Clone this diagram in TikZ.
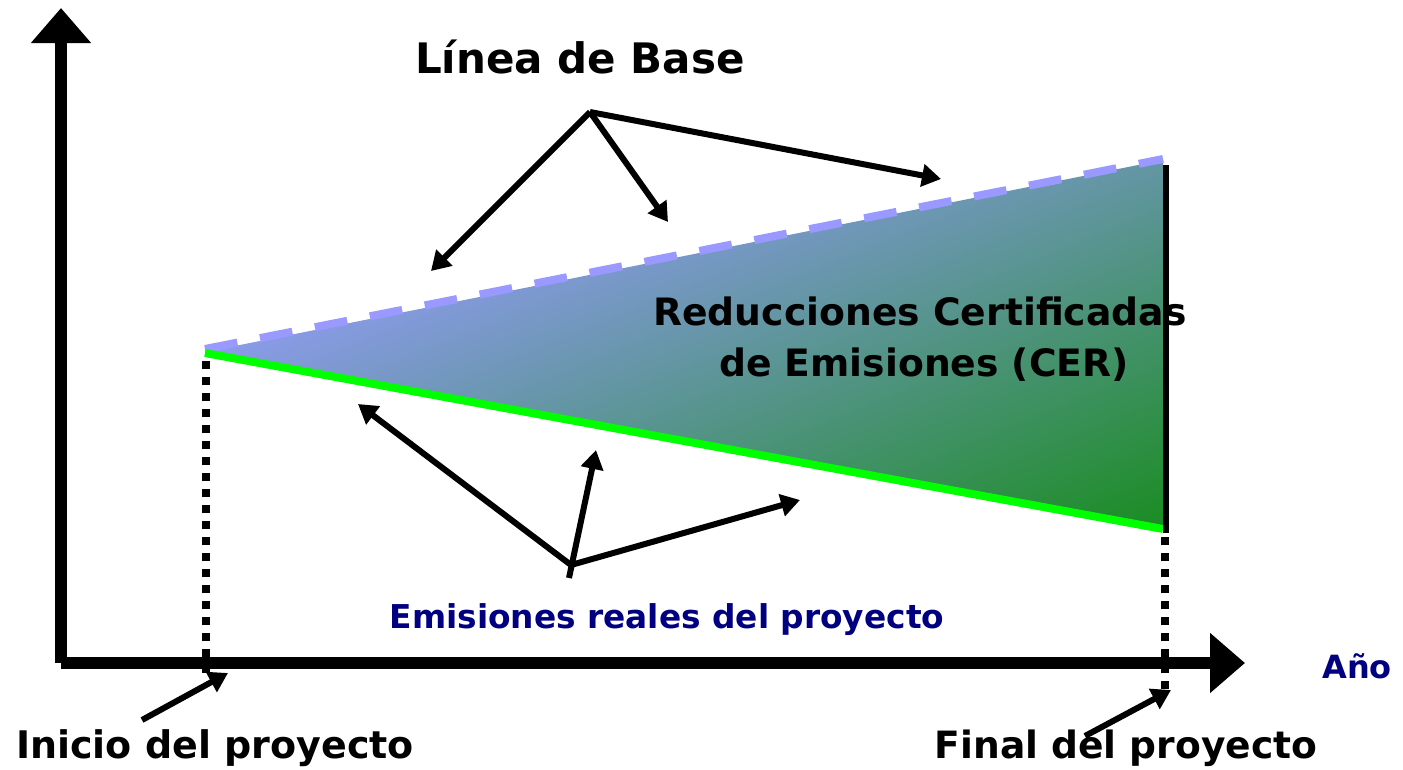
\documentclass[tikz,border=0pt]{standalone}
\usepackage{fontspec}
\setmainfont{DejaVu Sans}
\usetikzlibrary{arrows.meta}
\definecolor{baselinecol}{HTML}{9999FF}
\definecolor{projgreen}{HTML}{00FF00}
\definecolor{navytext}{HTML}{000080}
\definecolor{shadeA}{RGB}{140,155,235}
\definecolor{shadeB}{RGB}{25,140,32}
\tikzset{
  axisline/.style={line width=12.5pt, line cap=butt},
  axistip/.style={-{Triangle[length=35pt,width=58pt]}},
  pointer/.style={line width=6pt, -{Triangle[length=19pt,width=22pt]}},
  dotline/.style={line width=8pt, dash pattern=on 8pt off 8pt},
  lbl/.style={inner sep=0pt, anchor=base, font=\bfseries}
}
\begin{document}
\begin{tikzpicture}[x=1pt,y=-1pt]
\useasboundingbox (0,0) rectangle (1403,769);
% key points
\coordinate (origin) at (61,663);
\coordinate (ytip) at (61,8);
\coordinate (xtip) at (1245,663);
\coordinate (L) at (205,352);
\coordinate (TR) at (1163,160);
\coordinate (BR) at (1163,530);
\coordinate (center) at (684,345);
% shaded triangle (CER area)
\begin{scope}
  \clip (L) -- (TR) -- (BR) -- cycle;
  \begin{scope}[transform canvas={rotate around={22.2:(center)}}]
    \shade[top color=shadeA, bottom color=shadeB] (84,165) rectangle (1284,702);
  \end{scope}
\end{scope}
% baseline (dashed) and project emissions (green)
\coordinate (dashS) at (205,349);
\coordinate (dashE) at (1163,159);
\draw[baselinecol, line width=8pt, dash pattern=on 33pt off 23pt] (dashS) -- (dashE);
\coordinate (greenS) at (205,353);
\coordinate (greenE) at (1163,529);
\draw[projgreen, line width=8pt] (greenS) -- (greenE);
% right black edge
\coordinate (edgeT) at (1166,165);
\coordinate (edgeB) at (1166,533);
\draw[line width=6pt] (edgeT) -- (edgeB);
% dotted verticals
\coordinate (d1a) at (206,361);
\coordinate (d1b) at (206,677);
\coordinate (d2a) at (1165,537);
\coordinate (d2b) at (1165,692);
\draw[dotline] (d1a) -- (d1b);
\draw[dotline] (d2a) -- (d2b);
% axes
\draw[axisline, axistip] (origin) -- (ytip);
\draw[axisline, axistip] (origin) -- (xtip);
% labels
\node[lbl, font=\bfseries\fontsize{42}{50}\selectfont] (base) at (580,73) {Línea de Base};
\node[lbl, font=\bfseries\fontsize{37.7}{45}\selectfont] (cer1) at (920,325) {Reducciones Certificadas};
\node[lbl, font=\bfseries\fontsize{37.7}{45}\selectfont] (cer2) at (924,376) {de Emisiones (CER)};
\node[lbl, navytext, font=\bfseries\fontsize{32.8}{40}\selectfont] (emis) at (667,628) {Emisiones reales del proyecto};
\node[lbl, navytext, font=\bfseries\fontsize{32}{40}\selectfont] (anio) at (1357,678) {Año};
\node[lbl, font=\bfseries\fontsize{38}{45}\selectfont] (inicio) at (215,758) {Inicio del proyecto};
\node[lbl, font=\bfseries\fontsize{37.6}{45}\selectfont] (final) at (1126,758) {Final del proyecto};
% pointer arrows: Linea de Base
\coordinate (topJ) at (590,112);
\coordinate (t1) at (431,271);
\coordinate (t2) at (668,222);
\coordinate (t3) at (941,179);
\draw[pointer] (topJ) -- (t1);
\draw[pointer] (topJ) -- (t2);
\draw[pointer] (topJ) -- (t3);
% pointer arrows: Emisiones reales
\coordinate (botJ) at (571,565);
\coordinate (botT) at (569,578);
\coordinate (b1) at (358,404);
\coordinate (b2) at (596,450);
\coordinate (b3) at (800,500);
\draw[pointer] (botJ) -- (b1);
\draw[pointer] (botT) -- (b2);
\draw[pointer] (botJ) -- (b3);
% pointer arrows: Inicio / Final
\coordinate (iS) at (142,720);
\coordinate (iE) at (228,673);
\coordinate (fS) at (1085,736);
\coordinate (fE) at (1171,690);
\draw[pointer] (iS) -- (iE);
\draw[pointer] (fS) -- (fE);
\end{tikzpicture}
\end{document}
